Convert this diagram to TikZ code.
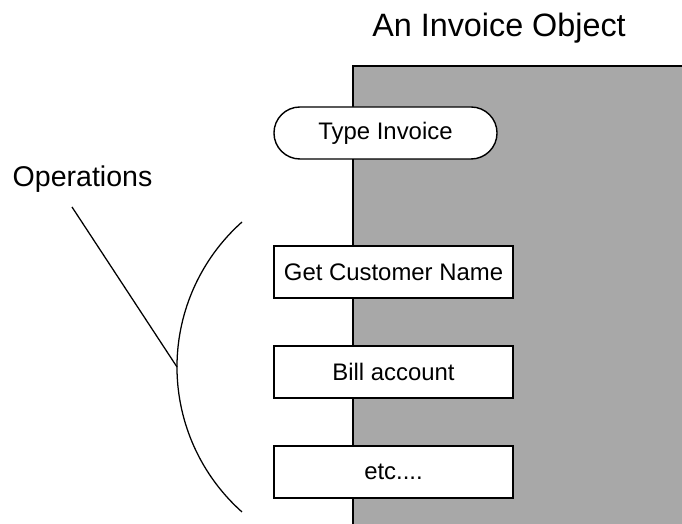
\documentclass[tikz,border=0pt]{standalone}
\usepackage{fontspec}
\setmainfont{Liberation Sans}
\usetikzlibrary{positioning, shapes.misc}

\tikzset{
  opbox/.style={draw, line width=1pt, fill=white, minimum width=5.975cm,
    minimum height=1.3cm, inner sep=0pt, font=\fontsize{17}{20}\selectfont},
  typebox/.style={opbox, rounded rectangle, minimum width=5.575cm},
  label text/.style={font=\fontsize{#1}{#1}\selectfont, inner sep=0pt, anchor=base}
}

\begin{document}
\begin{tikzpicture}[x=0.025cm, y=0.025cm, node distance=2.5cm, on grid]
\useasboundingbox (0,0) rectangle (682,524);

% the object
\fill[black!34] (353,0) rectangle (682,458);
\draw[line width=1.2pt] (682,458) -- (353,458) -- (353,0);

\node[label text=23] (title) at (499,487) {An Invoice Object};
\node[label text=20.3] (ops) at (82.5,337) {Operations};

\node[typebox] (typeinv) at (385.5,391) {Type Invoice};
\node[opbox] (getname) at (393.5,252) {Get Customer Name};
\node[opbox] (bill) [below=of getname] {Bill account};
\node[opbox] (etc) [below=of bill] {etc....};

% bracket
\coordinate (opstail) at (72,317);
\coordinate (arctop) at (242,302);
\coordinate (arcmid) at (177,157);
\draw[line width=0.9pt] (opstail) -- (arcmid);
\draw[line width=0.9pt] (arctop) arc[start angle=131.7, end angle=228.3, radius=194.2];

\end{tikzpicture}
\end{document}
